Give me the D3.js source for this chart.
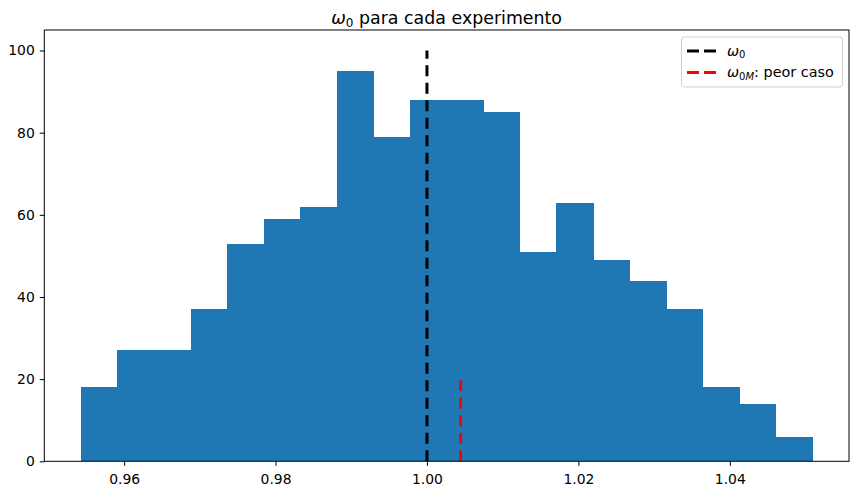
<!DOCTYPE html>
<html>
<head>
<meta charset="utf-8">
<script src="https://cdn.jsdelivr.net/npm/d3@7"></script>
<style>
  body { margin: 0; background: #fff; }
  svg text { font-family: "DejaVu Sans", sans-serif; fill: #000; }
</style>
</head>
<body>
<div id="chart"></div>
<script>
// histogram bins (edges) and counts
var binEdges = [0.95429, 0.95912, 0.96395, 0.96878, 0.97361, 0.97845, 0.98328,
                0.98811, 0.99294, 0.99777, 1.0026, 1.00743, 1.01226, 1.0171,
                1.02193, 1.02676, 1.03159, 1.03642, 1.04125, 1.04608, 1.05091]
var counts = [18, 27, 27, 37, 53, 59, 62, 95, 79, 88, 88, 85, 51, 63, 49, 44, 37, 18, 14, 6]

// vertical reference lines: x, from y0 to y1
var w0 = {x: 1.0, y0: 0, y1: 100}
var w0M = {x: 1.00444, y0: 0, y1: 20}

var xTicks = [0.96, 0.98, 1.00, 1.02, 1.04]
var yTicks = [0, 20, 40, 60, 80, 100]

var width = 857,
    height = 491,
    axLeft = 44.3, axRight = 849, axTop = 30, axBottom = 461.3

var svg = d3.select("#chart")
    .append("svg")
    .attr("width", width)
    .attr("height", height)

// matplotlib like 5% margins
var span = binEdges[binEdges.length - 1] - binEdges[0]
var x = d3.scaleLinear()
    .domain([binEdges[0] - 0.05 * span, binEdges[binEdges.length - 1] + 0.05 * span])
    .range([axLeft, axRight])

var y = d3.scaleLinear()
    .domain([0, 105])
    .range([axBottom, axTop])

// bars
var bins = counts.map(function(c, i) { return {x0: binEdges[i], x1: binEdges[i + 1], n: c} })

svg.append("g")
  .attr("shape-rendering", "crispEdges")
  .selectAll("rect")
  .data(bins)
  .enter().append("rect")
    .attr("x", function(d) { return x(d.x0) })
    .attr("width", function(d) { return x(d.x1) - x(d.x0) + 0.5 })
    .attr("y", function(d) { return y(d.n) })
    .attr("height", function(d) { return y(0) - y(d.n) })
    .attr("fill", "#1f77b4")

// dashed lines
function vline(d, color) {
  svg.append("line")
    .attr("x1", x(d.x)).attr("x2", x(d.x))
    .attr("y1", y(d.y0)).attr("y2", y(d.y1))
    .attr("stroke", color)
    .attr("stroke-width", 3)
    .attr("stroke-dasharray", "11,6.5")
}
vline(w0, "#000")
vline(w0M, "#ff0000")

// axes
var xAxis = svg.append("g")
  .attr("transform", "translate(0," + axBottom + ")")
  .call(d3.axisBottom(x).tickValues(xTicks).tickSize(4.5).tickPadding(5)
        .tickFormat(d3.format(".2f")))
var yAxis = svg.append("g")
  .attr("transform", "translate(" + axLeft + ",0)")
  .call(d3.axisLeft(y).tickValues(yTicks).tickSize(4.5).tickPadding(5))

;[xAxis, yAxis].forEach(function(a) {
  a.select(".domain").remove()
  a.selectAll("text").style("font-size", "13.9px").attr("fill", "#000")
  a.selectAll("line").attr("stroke", "#000").attr("stroke-width", 1)
})
xAxis.selectAll("text").attr("dy", "0.95em")

// frame
svg.append("rect")
  .attr("x", axLeft).attr("y", axTop)
  .attr("width", axRight - axLeft).attr("height", axBottom - axTop)
  .attr("fill", "none")
  .attr("stroke", "#000")
  .attr("stroke-width", 1)

// title
var title = svg.append("text")
  .attr("x", (axLeft + axRight) / 2)
  .attr("y", 24)
  .attr("text-anchor", "middle")
  .style("font-size", "17.4px")
title.append("tspan").style("font-style", "italic").text("ω")
title.append("tspan").attr("dy", 3).style("font-size", "12px").text("0")
title.append("tspan").attr("dy", -3).text(" para cada experimento")

// legend
var lg = svg.append("g")
lg.append("rect")
  .attr("x", 681.5).attr("y", 37)
  .attr("width", 161).attr("height", 50)
  .attr("rx", 3)
  .attr("fill", "#fff").attr("fill-opacity", 0.8)
  .attr("stroke", "#d0d0d0")

var legendItems = [
  {color: "#000", sub: "0", subIt: "", rest: ""},
  {color: "#ff0000", sub: "0", subIt: "M", rest: ": peor caso"}
]
legendItems.forEach(function(d, i) {
  var yy = 51 + i * 21.5
  lg.append("line")
    .attr("x1", 687).attr("x2", 716)
    .attr("y1", yy).attr("y2", yy)
    .attr("stroke", d.color)
    .attr("stroke-width", 3)
    .attr("stroke-dasharray", "12,5")
  var t = lg.append("text")
    .attr("x", 727).attr("y", yy + 4.5)
    .style("font-size", "14.4px")
  t.append("tspan").style("font-style", "italic").text("ω")
  t.append("tspan").attr("dy", 2.5).style("font-size", "10px").text(d.sub)
  t.append("tspan").style("font-size", "10px").style("font-style", "italic").text(d.subIt)
  t.append("tspan").attr("dy", -2.5).text(d.rest)
})
</script>
</body>
</html>
